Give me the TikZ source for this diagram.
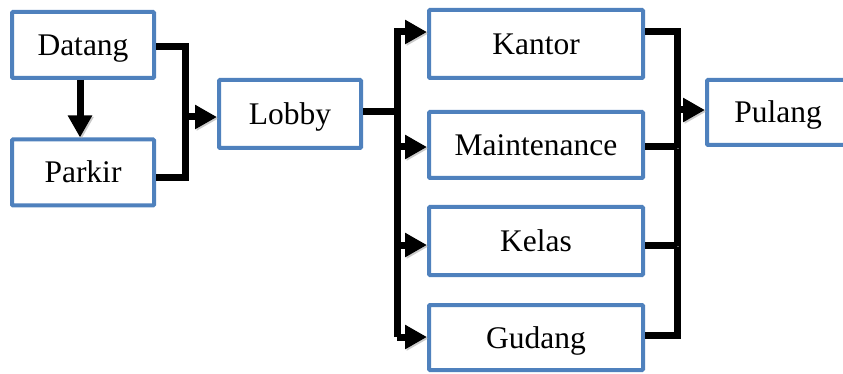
\documentclass[tikz,border=0pt]{standalone}
\usepackage{fontspec}
\setmainfont{Liberation Serif}
\usetikzlibrary{arrows.meta}
\definecolor{boxblue}{HTML}{4F81BD}
\begin{document}
\begin{tikzpicture}[x=1pt,y=-1pt,
  box/.style={draw=boxblue, line width=4pt, fill=white, minimum height=66pt,
    inner sep=0pt, font=\fontsize{31.5}{36}\selectfont, rounded corners=1pt,
    text height=21pt, text depth=0pt},
  sbox/.style={box, minimum width=142pt},
  wbox/.style={box, minimum width=214pt},
  conn/.style={line width=7pt, black,
    preaction={draw=black!35, opacity=0.6, transform canvas={xshift=1.5pt,yshift=-1.5pt}}},
  arr/.style={conn, -{Triangle[length=22pt,width=23pt]}}]
\useasboundingbox (0,0) rectangle (843,374);
% boxes
\node[sbox] (datang) at (83,45) {Datang};
\node[sbox] (parkir) at (83,172.5) {Parkir};
\node[sbox, minimum height=68pt] (lobby) at (290,114) {Lobby};
\node[wbox, minimum height=68pt] (kantor) at (536,44) {Kantor};
\node[wbox] (maint) at (536,145) {Maintenance};
\node[wbox, minimum height=68pt] (kelas) at (536,241) {Kelas};
\node[wbox, minimum height=65pt] (gudang) at (536,337.5) {Gudang};
\node[sbox, minimum height=65pt] (pulang) at (778,112.5) {Pulang};
% bus coordinates
\coordinate (a1) at (185,46.5);
\coordinate (a2) at (185,178);
\coordinate (a3) at (185,117);
\coordinate (b0) at (397,112);
\coordinate (b1) at (397,32);
\coordinate (b2) at (397,147);
\coordinate (b3) at (397,245);
\coordinate (b4) at (397,337);
\coordinate (c1) at (677,32);
\coordinate (c2) at (677,147);
\coordinate (c3) at (677,245);
\coordinate (c4) at (677,335);
\coordinate (c0) at (677,110);
% connectors
\draw[arr] ([xshift=-3pt]datang.south) -- ([xshift=-3pt]parkir.north);
\draw[conn] (datang.east |- a1) -- (a1) -- (a2) -- (parkir.east |- a2);
\draw[arr] (a3) -- (lobby.west |- a3);
\draw[conn] (lobby.east |- b0) -- (b0);
\draw[arr] (b4) -- (b1) -- (kantor.west |- b1);
\draw[arr] (b2) -- (maint.west |- b2);
\draw[arr] (b3) -- (kelas.west |- b3);
\draw[arr] (b4) -- (gudang.west |- b4);
\draw[conn] (kantor.east |- c1) -- (c1) -- (c4) -- (gudang.east |- c4);
\draw[conn] (maint.east |- c2) -- (c2);
\draw[conn] (kelas.east |- c3) -- (c3);
\draw[arr] (c0) -- (pulang.west |- c0);
\end{tikzpicture}
\end{document}
